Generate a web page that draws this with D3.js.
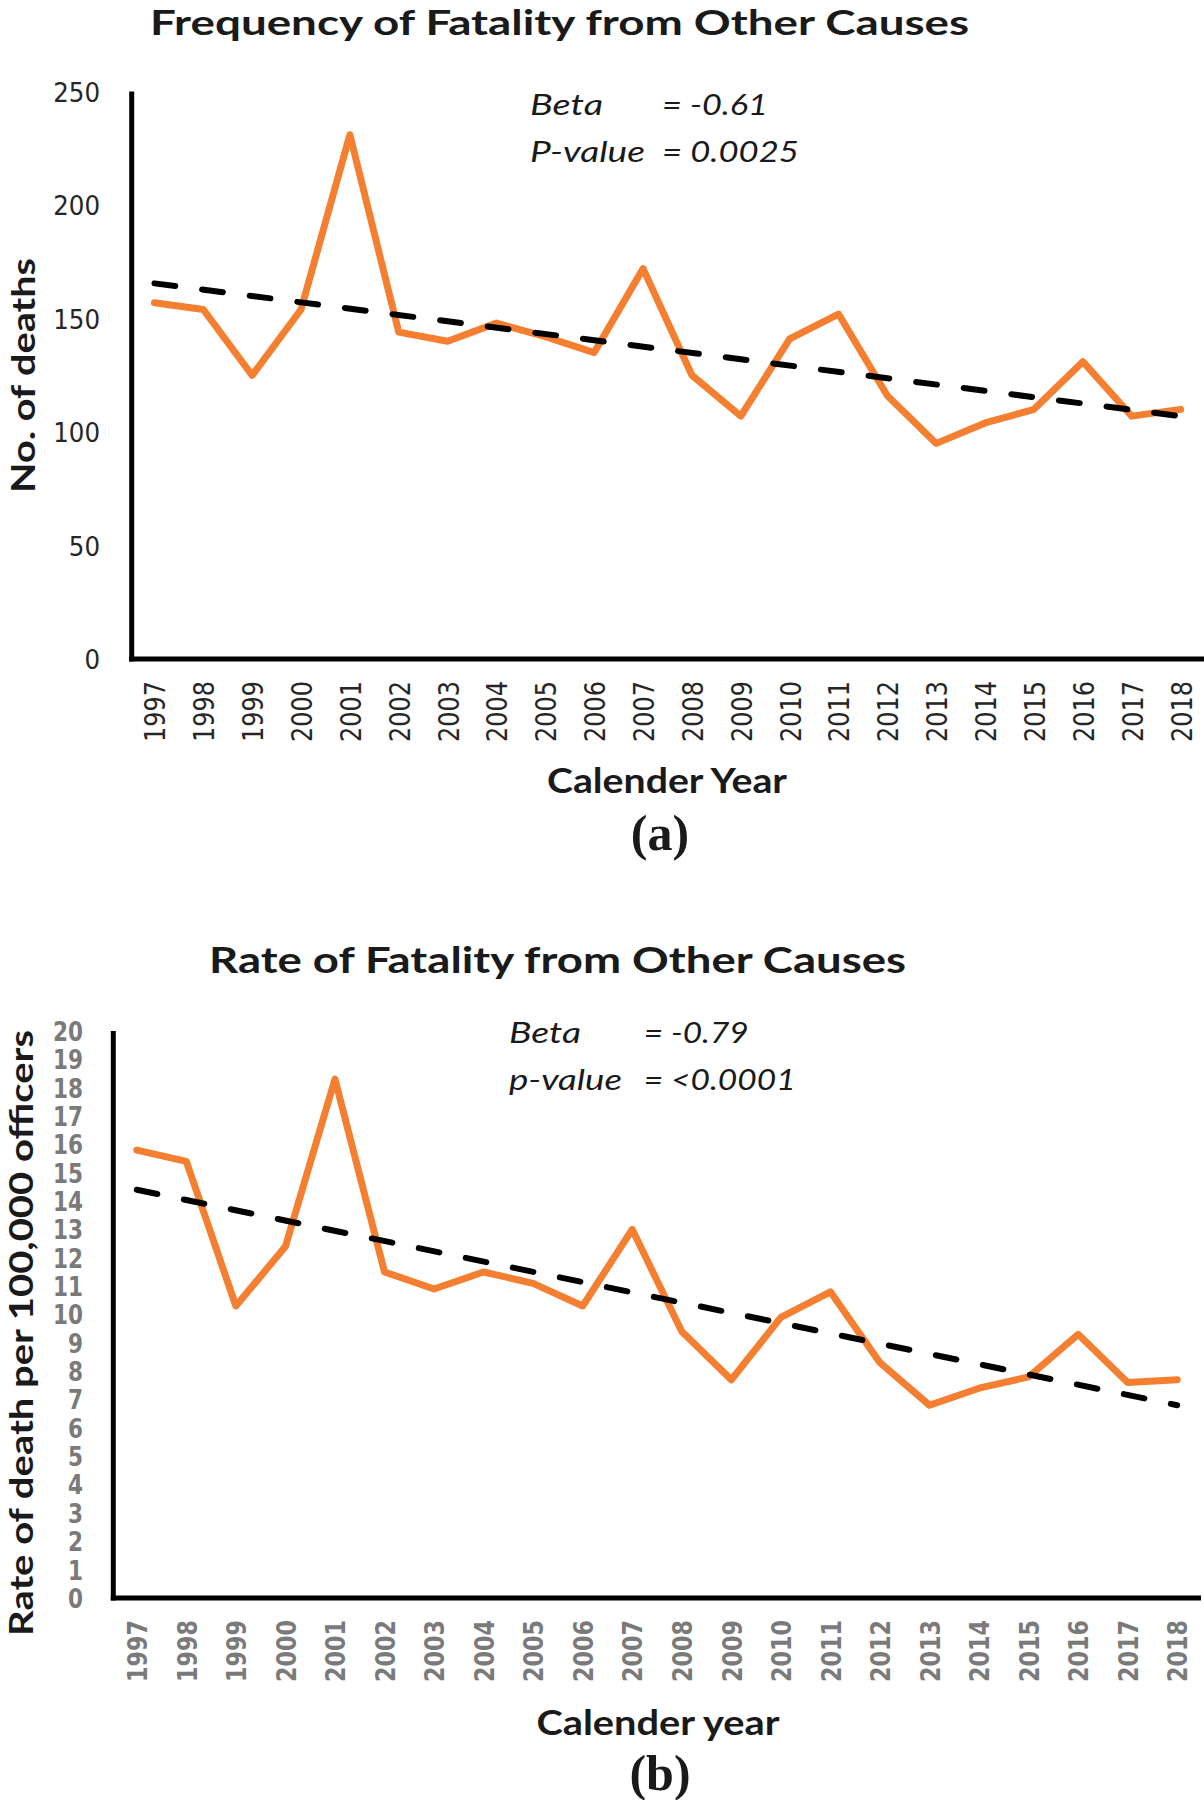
<!DOCTYPE html>
<html>
<head>
<meta charset="utf-8">
<script src="https://cdn.jsdelivr.net/npm/d3@7"></script>
<style>
body { margin: 0; background: #fff; }
svg { display: block; }
</style>
</head>
<body>
<svg id="svg_chart"></svg>
<script>
var width = 1204;
var height = 1800;

// categories (x axis) shared by both panels
var years = ["1997", "1998", "1999", "2000", "2001", "2002", "2003", "2004", "2005", "2006", "2007",
             "2008", "2009", "2010", "2011", "2012", "2013", "2014", "2015", "2016", "2017", "2018"];

// (a) number of deaths per year
var deaths = [157, 154, 125, 154, 231, 144, 140, 148, 142, 135, 172,
              125, 107, 141, 152, 116, 95, 104, 110, 131, 107, 110];
// fitted trend line, value at first and last year
var deathsTrend = [165.5, 107];
var deathsTicks = [0, 50, 100, 150, 200, 250];

// (b) rate of death per 100,000 officers
var rate = [15.8, 15.4, 10.3, 12.4, 18.3, 11.5, 10.9, 11.5, 11.1, 10.3, 13.0,
            9.4, 7.7, 9.9, 10.8, 8.3, 6.8, 7.4, 7.8, 9.3, 7.6, 7.7];
var rateTrend = [14.4, 6.8];
var rateTicks = [0, 1, 2, 3, 4, 5, 6, 7, 8, 9, 10, 11, 12, 13, 14, 15, 16, 17, 18, 19, 20];

var orange = "#f47f31";
var titleFont = "Lato, 'Open Sans', sans-serif";

var svg = d3.select("#svg_chart")
	.attr("width", width)
	.attr("height", height)
	.style("background", "#fff");

function addText(txt, x, y, size, opts) {
	opts = opts || {};
	var t = svg.append("text")
		.attr("x", x).attr("y", y)
		.attr("font-family", opts.family || titleFont)
		.attr("font-size", size)
		.attr("font-weight", opts.weight || "bold")
		.attr("font-style", opts.style || "normal")
		.attr("fill", opts.fill || "#1a1a1a")
		.attr("text-anchor", opts.anchor || "middle")
		.text(txt);
	if (opts.len) t.attr("textLength", opts.len).attr("lengthAdjust", "spacingAndGlyphs");
	if (opts.rotate) t.attr("transform", "rotate(-90," + x + "," + y + ")");
	return t;
}

function drawPanel(p) {
	var x = d3.scalePoint().domain(years).range(p.xRange).padding(0.5);
	var y = d3.scaleLinear().domain([0, p.ticks[p.ticks.length - 1]]).range([p.bottom, p.top]);
	var g = svg.append("g");

	// y tick labels (no tick marks)
	var ya = g.append("g").attr("transform", "translate(" + p.tickRight + ",0)")
		.call(d3.axisLeft(y).tickValues(p.ticks).tickSize(0).tickPadding(0));
	ya.select(".domain").remove();
	ya.attr("font-family", "'DejaVu Sans', Verdana, sans-serif")
		.attr("font-size", p.tickFont)
		.attr("font-weight", p.tickWeight);
	ya.selectAll("text")
		.attr("fill", p.tickColor)
		.attr("dy", "0.36em")
		.attr("textLength", function (d) { return String(d).length * p.digitW; })
		.attr("lengthAdjust", "spacingAndGlyphs");

	// rotated year labels
	var xa = g.append("g").attr("transform", "translate(0," + p.yearTop + ")")
		.call(d3.axisBottom(x).tickSize(0).tickPadding(0));
	xa.select(".domain").remove();
	xa.attr("font-family", "'DejaVu Sans', Verdana, sans-serif")
		.attr("font-size", p.yearFont)
		.attr("font-weight", p.tickWeight);
	xa.selectAll("text")
		.attr("fill", p.tickColor)
		.attr("x", 0).attr("y", 0)
		.attr("dy", "0.36em")
		.attr("transform", "rotate(-90)")
		.style("text-anchor", "end")
		.attr("textLength", p.yearLen)
		.attr("lengthAdjust", "spacingAndGlyphs");

	// axis lines
	g.append("line")
		.attr("x1", p.axisX).attr("x2", p.axisX)
		.attr("y1", y.range()[1]).attr("y2", p.bottom + 2.5)
		.attr("stroke", "#000").attr("stroke-width", 5);
	g.append("line")
		.attr("x1", p.axisX - 2.5).attr("x2", p.xRange[1] - 1)
		.attr("y1", p.bottom).attr("y2", p.bottom)
		.attr("stroke", "#000").attr("stroke-width", 5);

	// series line
	var line = d3.line()
		.x(function (d, i) { return x(years[i]); })
		.y(function (d) { return y(d); });
	g.append("path")
		.datum(p.values)
		.attr("d", line)
		.attr("fill", "none")
		.attr("stroke", orange)
		.attr("stroke-width", 7)
		.attr("stroke-linejoin", "round")
		.attr("stroke-linecap", "round");

	// linear trend (dashed)
	g.append("line")
		.attr("x1", x(years[0])).attr("y1", y(p.trend[0]))
		.attr("x2", x(years[years.length - 1])).attr("y2", y(p.trend[1]))
		.attr("stroke", "#000")
		.attr("stroke-width", 6)
		.attr("stroke-linecap", "round")
		.attr("stroke-dasharray", "21,27");
}

// ---------- panel (a)
drawPanel({
	values: deaths, trend: deathsTrend, ticks: deathsTicks,
	xRange: [130, 1205], top: 91.6, bottom: 659, axisX: 131.7,
	tickRight: 100, tickFont: 27, digitW: 15.6, tickWeight: "normal", tickColor: "#262626",
	yearTop: 681, yearFont: 29, yearLen: 61
});
addText("Frequency of Fatality from Other Causes", 559.6, 35, 34, { len: 819 });
addText("No. of deaths", 35, 375.5, 33, { len: 235, rotate: true });
addText("Calender Year", 667, 793, 35, { len: 240 });
addText("(a)", 660, 850, 50, { family: "'Liberation Serif', 'Times New Roman', serif" });

var stat = { weight: "normal", style: "italic", anchor: "start", fill: "#1a1a1a" };
addText("Beta", 530, 115, 29, Object.assign({ len: 73 }, stat));
addText("= -0.61", 662, 115, 29, Object.assign({ len: 106 }, stat));
addText("P-value", 530, 161.7, 29, Object.assign({ len: 115 }, stat));
addText("= 0.0025", 662, 161.7, 29, Object.assign({ len: 137 }, stat));

// ---------- panel (b)
drawPanel({
	values: rate, trend: rateTrend, ticks: rateTicks,
	xRange: [112, 1202], top: 1031, bottom: 1598, axisX: 113.3,
	tickRight: 83, tickFont: 26, digitW: 15, tickWeight: "bold", tickColor: "#7a7a7a",
	yearTop: 1620, yearFont: 27, yearLen: 62
});
addText("Rate of Fatality from Other Causes", 557.5, 973, 37, { len: 697 });
addText("Rate of death per 100,000 officers", 33, 1333, 33, { len: 606, rotate: true });
addText("Calender year", 658, 1735, 35, { len: 243 });
addText("(b)", 660, 1790, 50, { family: "'Liberation Serif', 'Times New Roman', serif" });

addText("Beta", 509, 1043.3, 29, Object.assign({ len: 72 }, stat));
addText("= -0.79", 643.7, 1043.3, 29, Object.assign({ len: 105 }, stat));
addText("p-value", 509, 1090, 29, Object.assign({ len: 113 }, stat));
addText("= <0.0001", 643.7, 1090, 29, Object.assign({ len: 152 }, stat));
</script>
</body>
</html>
